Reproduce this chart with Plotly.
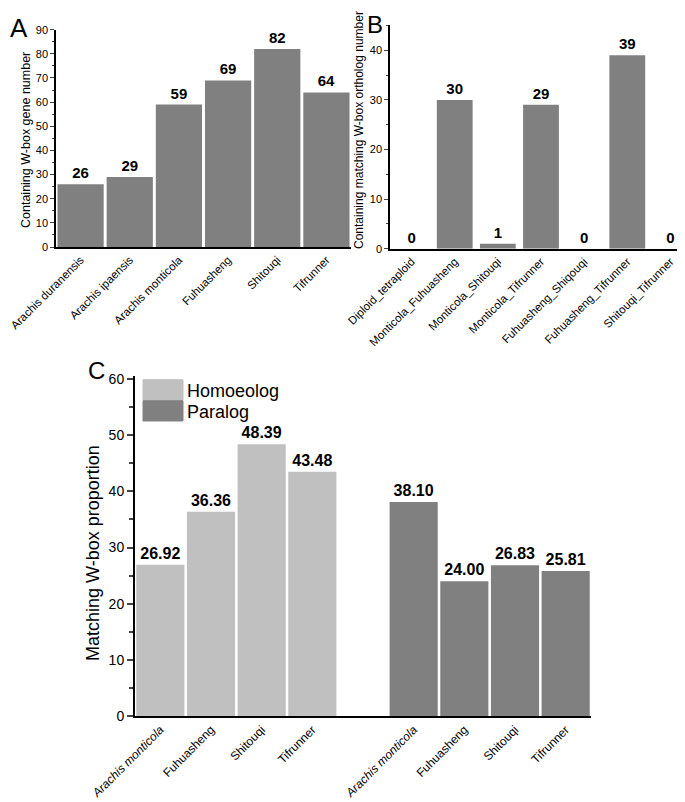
import plotly.graph_objects as go

# ---- data ----
a_categories = ["Arachis duranensis", "Arachis ipaensis", "Arachis monticola",
                "Fuhuasheng", "Shitouqi", "Tifrunner"]
a_values = [26, 29, 59, 69, 82, 64]

b_categories = ["Diploid_tetraploid", "Monticola_Fuhuasheng", "Monticola_Shitouqi",
                "Monticola_Tifrunner", "Fuhuasheng_Shiqouqi", "Fuhuasheng_Tifrunner",
                "Shitouqi_Tifrunner"]
b_values = [0, 30, 1, 29, 0, 39, 0]

c_categories = ["<i>Arachis monticola</i>", "Fuhuasheng", "Shitouqi", "Tifrunner"]
c_homoeolog = [26.92, 36.36, 48.39, 43.48]
c_paralog = [38.10, 24.00, 26.83, 25.81]

W, H = 685, 802
FONT = "Arial, Liberation Sans, sans-serif"
DARK = "#808080"
LIGHT = "#c0c0c0"


def px_x(p):
    return p / W


def px_y(p):
    return 1 - p / H


def tf(size):
    return dict(size=size, family=FONT, color="black")


fig = go.Figure()

# Panel A
fig.add_trace(go.Bar(
    x=a_categories, y=a_values, marker=dict(color=DARK, line=dict(width=0)),
    texttemplate="<b>%{y}</b>", textposition="outside",
    textfont=tf(15), width=0.94,
    cliponaxis=False, xaxis="x", yaxis="y", showlegend=False))

# Panel B
fig.add_trace(go.Bar(
    x=b_categories, y=b_values, marker=dict(color=DARK, line=dict(width=0)),
    texttemplate="<b>%{y}</b>", textposition="outside",
    textfont=tf(15), width=0.83,
    cliponaxis=False, xaxis="x2", yaxis="y2", showlegend=False))

# Panel C
n = len(c_categories)
homo_x = list(range(n))
para_x = [n + 1 + i for i in range(n)]
fig.add_trace(go.Bar(
    x=homo_x, y=c_homoeolog, name="Homoeolog",
    marker=dict(color=LIGHT, line=dict(width=0)),
    texttemplate="<b>%{y:.2f}</b>", textposition="outside",
    textfont=tf(16), width=0.95,
    cliponaxis=False, xaxis="x3", yaxis="y3", showlegend=False))
fig.add_trace(go.Bar(
    x=para_x, y=c_paralog, name="Paralog",
    marker=dict(color=DARK, line=dict(width=0)),
    texttemplate="<b>%{y:.2f}</b>", textposition="outside",
    textfont=tf(16), width=0.95,
    cliponaxis=False, xaxis="x3", yaxis="y3", showlegend=False))

axis_common = dict(showline=True, linecolor="black", showgrid=False, zeroline=False,
                   automargin=False)

fig.update_layout(
    width=W, height=H,
    margin=dict(l=0, r=0, t=0, b=0),
    paper_bgcolor="white", plot_bgcolor="white",
    font=dict(family=FONT, color="black"),
    barmode="overlay",
    xaxis=dict(**axis_common, domain=[px_x(48), px_x(343)], anchor="y",
               linewidth=1.5, ticks="", tickangle=-45, tickfont=tf(11.5),
               range=[-0.5, 5.5]),
    yaxis=dict(**axis_common, domain=[px_y(239), px_y(21.7)], anchor="x",
               linewidth=1.5, range=[0, 90], dtick=10, ticks="outside", ticklen=4,
               tickwidth=1.2, tickfont=tf(11),
               minor=dict(ticks="outside", dtick=5, ticklen=2.5, tickwidth=1.2)),
    xaxis2=dict(**axis_common, domain=[px_x(382), px_x(684)], anchor="y2",
                linewidth=1.5, ticks="", tickangle=-45, tickfont=tf(11.5),
                range=[-0.5, 6.5]),
    yaxis2=dict(**axis_common, domain=[px_y(240.7), px_y(16.5)], anchor="x2",
                linewidth=1.5, range=[0, 45.2], dtick=10, ticks="outside", ticklen=4,
                tickwidth=1.2, tickfont=tf(11),
                minor=dict(ticks="outside", dtick=5, ticklen=2.5, tickwidth=1.2)),
    xaxis3=dict(**axis_common, domain=[px_x(127), px_x(583)], anchor="y3",
                linewidth=2, ticks="", tickangle=-45,
                tickvals=homo_x + para_x, ticktext=c_categories + c_categories,
                tickfont=tf(12), range=[-0.5, 2 * n + 0.5]),
    yaxis3=dict(**axis_common, domain=[px_y(708), px_y(368.3)], anchor="x3",
                linewidth=2, range=[0, 60.5], dtick=10, ticks="outside", ticklen=6,
                tickwidth=2, tickfont=tf(14),
                minor=dict(ticks="outside", dtick=5, ticklen=4, tickwidth=2)),
)

# y-axis titles
for txt, x, y, s in [("Containing W-box gene number", 18, 132, 12.5),
                     ("Containing matching W-box ortholog number", 351, 122, 12),
                     ("Matching W-box proportion", 85, 545, 18)]:
    fig.add_annotation(text=txt, x=px_x(x), y=px_y(y), xref="paper", yref="paper",
                       xanchor="center", yanchor="middle", textangle=-90,
                       showarrow=False, font=tf(s))

# panel letters
for txt, x, y, s in [("A", 0, 3, 26), ("B", 357, 1, 24), ("C", 78, 347, 24)]:
    fig.add_annotation(text=txt, x=px_x(x), y=px_y(y), xref="paper", yref="paper",
                       xanchor="left", yanchor="top", showarrow=False, font=tf(s))

# manual legend for panel C
for label, color, top, bot in [("Homoeolog", LIGHT, 371.7, 392), ("Paralog", DARK, 392.7, 413)]:
    fig.add_shape(type="rect", xref="paper", yref="paper",
                  x0=px_x(135), x1=px_x(175), y0=px_y(bot), y1=px_y(top),
                  fillcolor=color, line=dict(color=color, width=1))
    fig.add_annotation(text=label, x=px_x(177), y=px_y((top + bot) / 2 + 1),
                       xref="paper", yref="paper", xanchor="left", yanchor="middle",
                       showarrow=False, font=tf(18))

fig.write_html("out.html")
